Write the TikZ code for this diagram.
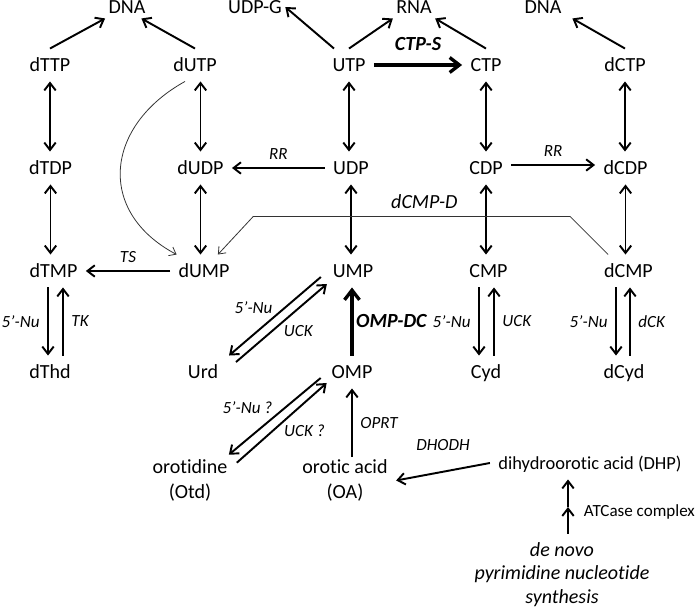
\documentclass[tikz,border=0pt]{standalone}
\usepackage{fontspec}
\setmainfont{Carlito}[Ligatures={TeX,NoCommon}]
\usetikzlibrary{arrows.meta}

\newcommand{\metsize}{\fontsize{11.4}{14.2}\selectfont}
\newcommand{\enzsize}{\fontsize{9.7}{11.6}\selectfont}

\begin{document}
\begin{tikzpicture}[>={Straight Barb[length=4.2pt,width=6.5pt]}, line width=1.1pt]
  \tikzstyle{every node}=[font=\metsize, inner sep=0.15cm]
  \tikzstyle{met}=[text height=0.3cm, text depth=0.02cm]
  \tikzstyle{endprod}=[met, inner sep=0.05cm]
  \tikzstyle{enz}=[font=\enzsize\itshape]
  \tikzstyle{bigenz}=[font=\metsize\bfseries\itshape]
  \tikzstyle{bigarrow}=[line width=1.9pt, -{Straight Barb[length=5.5pt,width=8.5pt]}]
  \tikzstyle{side}=[line width=0.45pt, black!80, -{Straight Barb[length=3.5pt,width=5.5pt]}]

  \useasboundingbox (0,0) rectangle (14,12.18);

  % nucleic acids
  \node[endprod] (dnal) at (2.54,12.04) {DNA};
  \node[endprod] (udpg) at (5.1,12.04) {UDP-G};
  \node[endprod] (rna) at (8.28,12.04) {RNA};
  \node[endprod] (dnar) at (10.86,12.04) {DNA};

  % triphosphates
  \node[met] (dttp) at (1.0,10.88) {dTTP};
  \node[met] (dutp) at (3.9,10.88) {dUTP};
  \node[met] (utp) at (6.98,10.88) {UTP};
  \node[met] (ctp) at (9.72,10.88) {CTP};
  \node[met] (dctp) at (12.5,10.88) {dCTP};

  % diphosphates
  \node[met] (dtdp) at (1.01,8.82) {dTDP};
  \node[met] (dudp) at (4.01,8.82) {dUDP};
  \node[met] (udp) at (7.02,8.82) {UDP};
  \node[met] (cdp) at (9.72,8.82) {CDP};
  \node[met] (dcdp) at (12.51,8.82) {dCDP};

  % monophosphates
  \node[met] (dtmp) at (1.07,6.76) {dTMP};
  \node[met] (dump) at (4.08,6.76) {dUMP};
  \node[met] (ump) at (7.06,6.76) {UMP};
  \node[met] (cmp) at (9.77,6.76) {CMP};
  \node[met] (dcmp) at (12.57,6.76) {dCMP};

  % nucleosides
  \node[met] (dthd) at (1.0,4.74) {dThd};
  \node[met] (urd) at (4.06,4.74) {Urd};
  \node[met] (omp) at (7.04,4.74) {OMP};
  \node[met] (cyd) at (9.72,4.74) {Cyd};
  \node[met] (dcyd) at (12.48,4.74) {dCyd};

  % orotate branch
  \node[align=center] (otd) at (3.8,2.57) {orotidine\\(Otd)};
  \node[align=center] (oa) at (6.9,2.57) {orotic acid\\(OA)};
  \node[met, font=\fontsize{10.5}{12.6}\selectfont] (dhp) at (11.8,2.92) {dihydroorotic acid (DHP)};
  \node[align=center, font=\fontsize{11.4}{13.4}\selectfont\itshape] (denovo) at (11.24,0.69) {de novo\\pyrimidine nucleotide\\synthesis};

  % to nucleic acids
  \draw[->] (dttp.north) -- (dnal.south west);
  \draw[->] (dutp.north) -- ([xshift=-0.15cm]dnal.south east);
  \draw[->] ([xshift=-0.3cm]utp.north) -- (udpg.east);
  \draw[->] (utp.north) -- (rna.south west);
  \draw[->] (ctp.north) -- (rna.south east);
  \draw[->] (dctp.north) -- ([xshift=0.15cm]dnar.south east);

  % phosphorylation steps
  \draw[<->] (dttp.south) -- (dttp.south |- dtdp.north);
  \draw[<->] (dtdp.south) -- (dtdp.south |- dtmp.north);
  \draw[<->] (dutp.south -| dudp.north) -- (dudp.north);
  \draw[<->] (dudp.south) -- (dudp.south |- dump.north);
  \draw[<->] (utp.south) -- (utp.south |- udp.north);
  \draw[<->] (udp.south) -- (udp.south |- ump.north);
  \draw[<->] (ctp.south) -- (ctp.south |- cdp.north);
  \draw[<->] (cdp.south) -- (cdp.south |- cmp.north);
  \draw[<->] (dctp.south) -- (dctp.south |- dcdp.north);
  \draw[<->] (dcdp.south) -- (dcdp.south |- dcmp.north);

  \draw[bigarrow] (utp) -- (ctp) node[bigenz, midway, above=0.1cm] {CTP-S};
  \draw[->] (udp) -- (dudp) node[enz, midway, above] {RR};
  \draw[->] ([yshift=0.06cm]cdp.east) -- ([yshift=0.06cm]dcdp.west) node[enz, midway, above] {RR};
  \draw[->] (dump) -- (dtmp) node[enz, midway, above] {TS};

  \draw[side] ([xshift=-0.2cm]dutp.south) to[out=209, in=152, looseness=1.35] ([xshift=0.13cm]dump.north west);
  \draw[side] ([xshift=0.25cm]dcmp.north west) -- ++(-0.76,0.76) -- ++(-6.34,0) node[pos=0.46, above, black, font=\metsize\itshape] {dCMP-D} -- ([xshift=-0.4cm]dump.north east);

  \draw[bigarrow] (omp.north) -- (omp.north |- ump.south) node[bigenz, midway, right, inner sep=0.05cm] {OMP-DC};

  % salvage
  \draw[->] ([xshift=-0.11cm]dtmp.south) -- ([xshift=-0.11cm]dtmp.south |- dthd.north) node[enz, midway, left] {5’-Nu};
  \draw[->] ([xshift=0.19cm]dtmp.south |- dthd.north) -- ([xshift=0.19cm]dtmp.south) node[enz, midway, right] {TK};
  \draw[->] ([xshift=-0.19cm]cmp.south) -- ([xshift=-0.19cm]cmp.south |- cyd.north) node[enz, midway, left] {5’-Nu};
  \draw[->] ([xshift=0.11cm]cmp.south |- cyd.north) -- ([xshift=0.11cm]cmp.south) node[enz, midway, right] {UCK};
  \draw[->] ([xshift=-0.25cm]dcmp.south) -- ([xshift=-0.25cm]dcmp.south |- dcyd.north) node[enz, midway, left] {5’-Nu};
  \draw[->] ([xshift=0.03cm]dcmp.south |- dcyd.north) -- ([xshift=0.03cm]dcmp.south) node[enz, midway, right] {dCK};

  \draw[->] ([shift={(-0.07,-0.12)}]ump.west) -- ([xshift=0.05cm]urd.north east) node[enz, midway, above left, inner sep=0.03cm] {5’-Nu};
  \draw[->] ([shift={(0.19,-0.13)}]urd.north east) -- ([shift={(0.05,-0.26)}]ump.west) node[enz, midway, below right, inner sep=0.03cm] {UCK};
  \draw[->] ([shift={(-0.05,-0.12)}]omp.west) -- ([shift={(-0.14,-0.07)}]otd.north east) node[enz, midway, above left, inner sep=0.03cm] {5’-Nu ?};
  \draw[->] ([shift={(0.02,-0.23)}]otd.north east) -- ([shift={(0.07,-0.22)}]omp.west) node[enz, midway, below right, inner sep=0.03cm] {UCK ?};

  % de novo branch
  \draw[->] ([yshift=-0.12cm]omp.south |- oa.north) -- (omp.south) node[enz, midway, right] {OPRT};
  \draw[->] (dhp.west) -- (oa.east) node[enz, midway, above=0.25cm] {DHODH};
  \coordinate (atc) at (11.36,2.04);
  \draw[->] (atc |- denovo.north) -- (atc) node[right=0.15cm, yshift=-0.1cm, font=\enzsize] {ATCase complex};
  \draw[->] (atc) -- (atc |- dhp.south);
\end{tikzpicture}
\end{document}
